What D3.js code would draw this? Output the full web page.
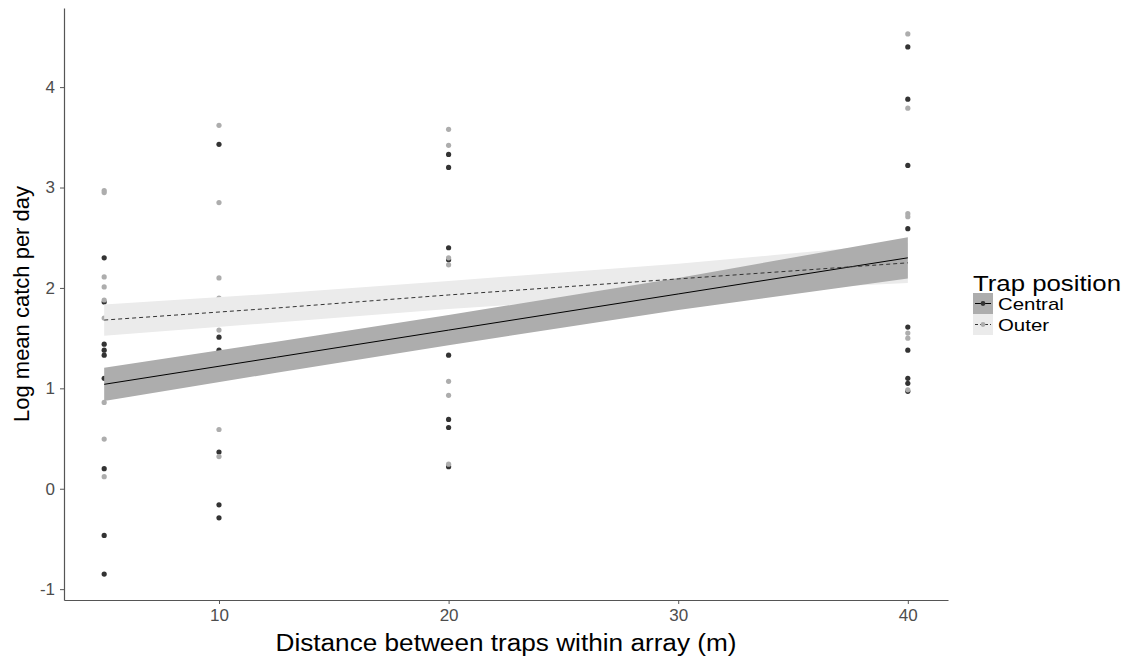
<!DOCTYPE html>
<html>
<head>
<meta charset="utf-8">
<script src="https://cdnjs.cloudflare.com/ajax/libs/d3/7.8.5/d3.min.js"></script>
<style>
  body { margin: 0; background: #fff; }
  svg { font-family: "Liberation Sans", Arial, sans-serif; }
</style>
</head>
<body>
<script>
// distances sampled (m)
var distances = [5, 10, 20, 40]

// log mean catch per day, central traps, per distance
var central5 = [2.30, 1.86, 1.44, 1.38, 1.33, 1.10, 0.20, -0.465, -0.85]
var central10 = [3.43, 1.51, 1.38, 1.31, 1.17, 0.365, -0.16, -0.29]
var central20 = [3.33, 3.20, 2.40, 2.28, 2.00, 1.60, 1.33, 0.69, 0.61, 0.22]
var central40 = [4.40, 3.88, 3.22, 2.59, 1.61, 1.38, 1.10, 1.05, 0.97]

// outer traps
var outer5 = [2.97, 2.95, 2.11, 2.01, 1.88, 1.70, 0.86, 0.495, 0.12]
var outer10 = [3.62, 2.85, 2.10, 1.90, 1.71, 1.58, 1.11, 0.59, 0.32]
var outer20 = [3.58, 3.42, 2.30, 2.23, 1.55, 1.07, 0.93, 0.245]
var outer40 = [4.53, 3.79, 2.74, 2.71, 1.55, 1.50, 0.985]

// fitted lines and confidence bands
var fitX = [5, 12.5, 20, 30, 40]
var centralFit = [1.04, 1.31, 1.58, 1.94, 2.30]
var centralLo = [0.875, 1.155, 1.43, 1.78, 2.095]
var centralHi = [1.205, 1.465, 1.73, 2.10, 2.505]
var outerFit = [1.68, 1.80, 1.93, 2.09, 2.25]
var outerLo = [1.525, 1.655, 1.79, 1.94, 2.05]
var outerHi = [1.835, 1.945, 2.07, 2.24, 2.45]

var xTicks = [10, 20, 30, 40]
var yTicks = [-1, 0, 1, 2, 3, 4]
var groups = ['Central', 'Outer']

var W = 1131, H = 664
var panel = {left: 64, right: 948, top: 8, bottom: 600}

var x = d3.scaleLinear().domain([3.25, 41.75]).range([panel.left, panel.right])
var y = d3.scaleLinear().domain([-1.108, 4.788]).range([panel.bottom, panel.top])

var colors = {
	Central: {pt: '#333333', band: '#adadad', line: '#000000', dash: null},
	Outer: {pt: '#adadad', band: '#ebebeb', line: '#333333', dash: '4,3'}
}

var svg = d3.select('body').append('svg')
	.attr('width', W)
	.attr('height', H)

function toPts(arrs){
	var out = []
	arrs.forEach(function(a, i){
		a.forEach(function(v){ out.push({x: distances[i], y: v}) })
	})
	return out
}
var centralPts = toPts([central5, central10, central20, central40])
var outerPts = toPts([outer5, outer10, outer20, outer40])

function bandData(lo, hi){
	return fitX.map(function(d, i){ return {x: d, lo: lo[i], hi: hi[i]} })
}
function lineData(f){
	return fitX.map(function(d, i){ return {x: d, y: f[i]} })
}

var area = d3.area()
	.x(function(d){ return x(d.x) })
	.y0(function(d){ return y(d.lo) })
	.y1(function(d){ return y(d.hi) })
var line = d3.line()
	.x(function(d){ return x(d.x) })
	.y(function(d){ return y(d.y) })

// points
svg.append('g').selectAll('circle').data(centralPts).enter().append('circle')
	.attr('cx', function(d){ return x(d.x) })
	.attr('cy', function(d){ return y(d.y) })
	.attr('r', 2.6)
	.attr('fill', colors.Central.pt)
svg.append('g').selectAll('circle').data(outerPts).enter().append('circle')
	.attr('cx', function(d){ return x(d.x) })
	.attr('cy', function(d){ return y(d.y) })
	.attr('r', 2.6)
	.attr('fill', colors.Outer.pt)

// bands
svg.append('path').datum(bandData(outerLo, outerHi))
	.attr('d', area).attr('fill', colors.Outer.band)
svg.append('path').datum(bandData(centralLo, centralHi))
	.attr('d', area).attr('fill', colors.Central.band)

// fit lines
svg.append('path').datum(lineData(centralFit))
	.attr('d', line).attr('fill', 'none')
	.attr('stroke', colors.Central.line).attr('stroke-width', 1)
svg.append('path').datum(lineData(outerFit))
	.attr('d', line).attr('fill', 'none')
	.attr('stroke', colors.Outer.line).attr('stroke-width', 1)
	.attr('stroke-dasharray', colors.Outer.dash)

// axes
var plain = function(d){ return String(d) }
var xAxis = svg.append('g')
	.attr('transform', 'translate(0,' + panel.bottom + ')')
	.call(d3.axisBottom(x).tickValues(xTicks).tickFormat(plain)
		.tickSize(4).tickPadding(5).tickSizeOuter(0))
var yAxis = svg.append('g')
	.attr('transform', 'translate(' + panel.left + ',0)')
	.call(d3.axisLeft(y).tickValues(yTicks).tickFormat(plain)
		.tickSize(4).tickPadding(5).tickSizeOuter(0))

;[xAxis, yAxis].forEach(function(a){
	a.select('.domain').attr('stroke', '#555555').attr('stroke-width', 1.2)
	a.selectAll('.tick line').attr('stroke', '#555555')
	a.selectAll('.tick text')
		.attr('fill', '#4d4d4d')
		.style('font-size', '17px')
		.style('font-family', '"Liberation Sans", Arial, sans-serif')
})

// stretch horizontal text a bit wider, like the reference rendering
function widen(sel, k){
	var len = sel.node().getComputedTextLength()
	sel.attr('textLength', len * k).attr('lengthAdjust', 'spacingAndGlyphs')
}

// axis titles
var xTitle = svg.append('text')
	.attr('x', (panel.left + panel.right) / 2)
	.attr('y', 651)
	.attr('text-anchor', 'middle')
	.style('font-size', '23px')
	.text('Distance between traps within array (m)')
widen(xTitle, 461 / xTitle.node().getComputedTextLength())
svg.append('text')
	.attr('transform', 'translate(29,' + ((panel.top + panel.bottom) / 2) + ') rotate(-90)')
	.attr('text-anchor', 'middle')
	.style('font-size', '22px')
	.text('Log mean catch per day')

// legend
var lg = svg.append('g').attr('transform', 'translate(973,0)')
var lgTitle = lg.append('text').attr('x', 0).attr('y', 291)
	.style('font-size', '22px')
	.text('Trap position')
widen(lgTitle, 148 / lgTitle.node().getComputedTextLength())
groups.forEach(function(g, i){
	var c = colors[g]
	var ky = 293 + i * 21
	lg.append('rect').attr('x', 0).attr('y', ky).attr('width', 20).attr('height', 21)
		.attr('fill', c.band)
	lg.append('line').attr('x1', 2).attr('x2', 18).attr('y1', ky + 10.5).attr('y2', ky + 10.5)
		.attr('stroke', c.line).attr('stroke-width', 1)
		.attr('stroke-dasharray', c.dash ? '3,2' : null)
	lg.append('circle').attr('cx', 10).attr('cy', ky + 10.5).attr('r', 2.4)
		.attr('fill', c.pt)
	var t = lg.append('text').attr('x', 25).attr('y', ky + 16.5)
		.style('font-size', '17px')
		.text(g)
	widen(t, 1.2)
})
</script>
</body>
</html>
